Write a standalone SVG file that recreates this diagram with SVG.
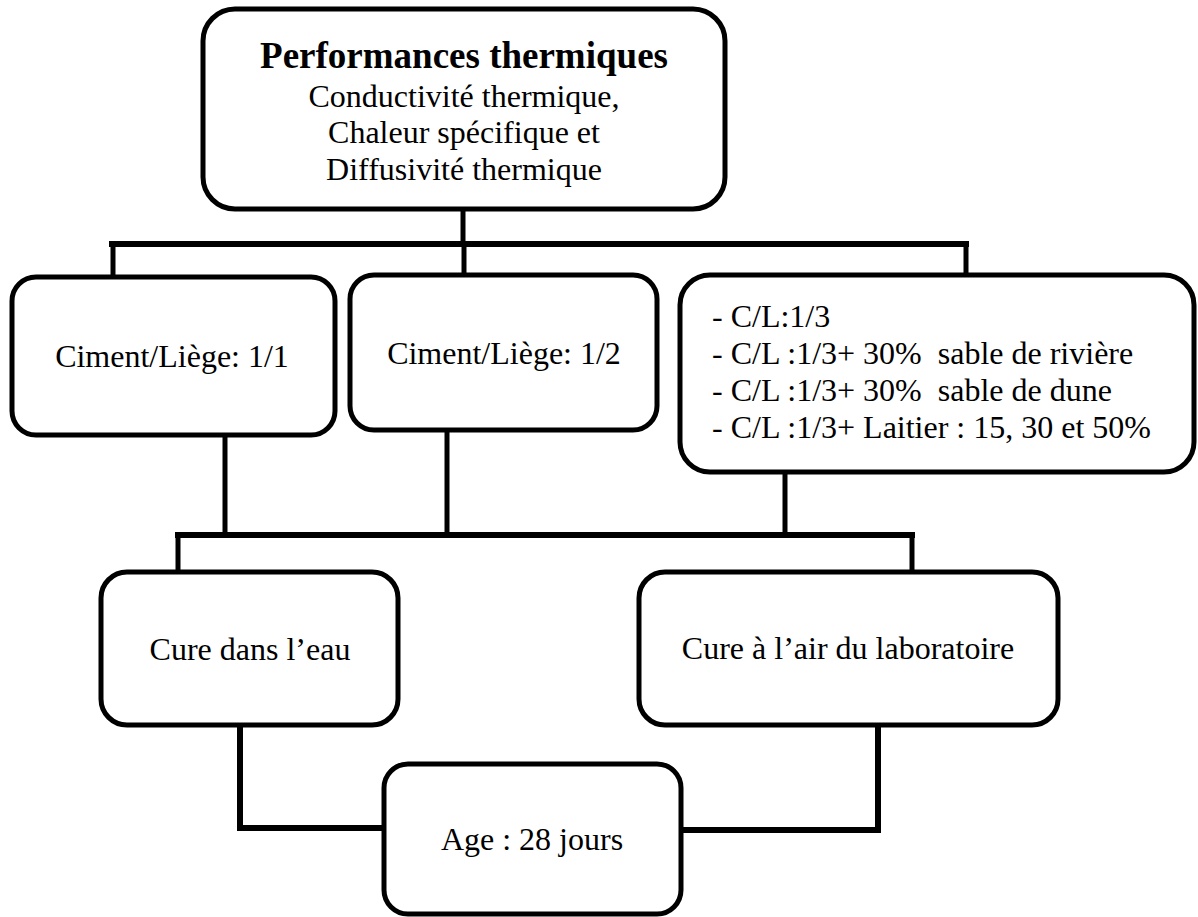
<svg xmlns="http://www.w3.org/2000/svg" width="1198" height="917" viewBox="0 0 1198 917">
  <style>
    .box { fill: #ffffff; stroke: #000000; stroke-width: 5; }
    .wire { fill: none; stroke: #000000; stroke-width: 5; stroke-linecap: square; }
    .bar { fill: none; stroke: #000000; stroke-width: 6; stroke-linecap: square; }
    text { font-family: "Liberation Serif", "Times New Roman", serif; font-size: 32px; fill: #000000; }
    .c { text-anchor: middle; }
    .title { font-weight: bold; font-size: 37px; }
    .pre { white-space: pre; }
  </style>
  <rect width="1198" height="917" fill="#ffffff"/>

  <!-- connectors -->
  <g id="connectors">
    <!-- top tier -->
    <line class="wire" x1="463" y1="210" x2="463" y2="244"/>
    <line class="bar" x1="112" y1="244" x2="966" y2="244"/>
    <line class="wire" x1="113" y1="244" x2="113" y2="276"/>
    <line class="wire" x1="464" y1="244" x2="464" y2="274"/>
    <line class="wire" x1="966" y1="244" x2="966" y2="274"/>
    <!-- middle tier -->
    <line class="wire" x1="225" y1="436" x2="225" y2="530"/>
    <line class="wire" x1="447" y1="431" x2="447" y2="535"/>
    <line class="wire" x1="785" y1="473" x2="785" y2="535"/>
    <line class="bar" x1="178" y1="535" x2="912" y2="535"/>
    <line class="wire" x1="178" y1="535" x2="178" y2="571"/>
    <line class="wire" x1="912" y1="535" x2="912" y2="571"/>
    <!-- bottom tier -->
    <polyline class="bar" points="240,726 240,828 383,828"/>
    <polyline class="bar" points="878,726 878,830 682,830"/>
  </g>

  <g id="node-performances">
    <rect class="box" x="203" y="9" width="522" height="200" rx="32" ry="32"/>
    <text class="c title" x="464" y="68">Performances thermiques</text>
    <text class="c" x="464" y="107">Conductivité thermique,</text>
    <text class="c" x="464" y="143">Chaleur spécifique et</text>
    <text class="c" x="464" y="180">Diffusivité thermique</text>
  </g>

  <g id="node-ciment-1-1">
    <rect class="box" x="12" y="277" width="323" height="158" rx="24" ry="24"/>
    <text class="c" x="172" y="367">Ciment/Liège: 1/1</text>
  </g>

  <g id="node-ciment-1-2">
    <rect class="box" x="350" y="275" width="307" height="155" rx="24" ry="24"/>
    <text class="c" x="504" y="364">Ciment/Liège: 1/2</text>
  </g>

  <g id="node-cl-1-3">
    <rect class="box" x="680" y="275" width="514" height="197" rx="30" ry="30"/>
    <text class="pre" x="712" y="327">- C/L:1/3</text>
    <text class="pre" x="712" y="364">- C/L :1/3+ 30%  sable de rivière</text>
    <text class="pre" x="712" y="401">- C/L :1/3+ 30%  sable de dune</text>
    <text class="pre" x="712" y="438">- C/L :1/3+ Laitier : 15, 30 et 50%</text>
  </g>

  <g id="node-cure-eau">
    <rect class="box" x="101" y="572" width="297" height="153" rx="26" ry="26"/>
    <text class="c" x="250" y="660">Cure dans l’eau</text>
  </g>

  <g id="node-cure-air">
    <rect class="box" x="639" y="572" width="419" height="153" rx="26" ry="26"/>
    <text class="c" x="848" y="659">Cure à l’air du laboratoire</text>
  </g>

  <g id="node-age">
    <rect class="box" x="384" y="764" width="297" height="150" rx="24" ry="24"/>
    <text class="c" x="532" y="850">Age : 28 jours</text>
  </g>
</svg>
